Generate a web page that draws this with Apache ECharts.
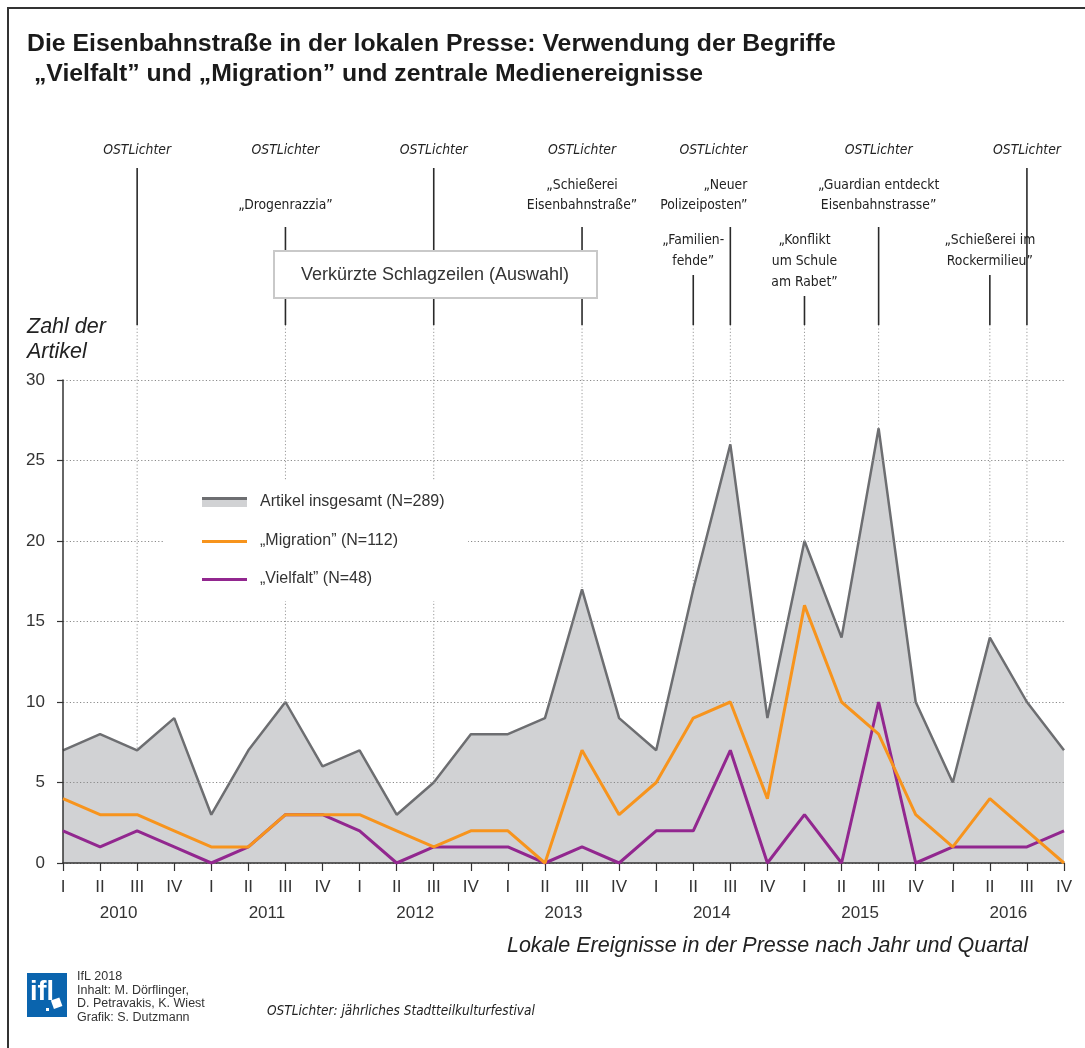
<!DOCTYPE html>
<html>
<head>
<meta charset="utf-8">
<script src="https://cdn.jsdelivr.net/npm/echarts@6/dist/echarts.min.js"></script>
<style>
html,body{margin:0;padding:0;background:#fff;}
#c{width:1085px;height:1048px;}
</style>
</head>
<body>
<div id="c"></div>
<script>
// ---- data ----
const years = ['2010', '2011', '2012', '2013', '2014', '2015', '2016'];
const quarterNames = ['I', 'II', 'III', 'IV'];
const categories = years.flatMap(y => quarterNames.map(q => y + ' ' + q));
const totalArticles = [7, 8, 7, 9, 3, 7, 10, 6, 7, 3, 5, 8, 8, 9, 17, 9, 7, 17, 26, 9, 20, 14, 27, 10, 5, 14, 10, 7];
const migration = [4, 3, 3, 2, 1, 1, 3, 3, 3, 2, 1, 2, 2, 0, 7, 3, 5, 9, 10, 4, 16, 10, 8, 3, 1, 4, 2, 0];
const vielfalt = [2, 1, 2, 1, 0, 1, 3, 3, 2, 0, 1, 1, 1, 0, 1, 0, 2, 2, 7, 0, 3, 0, 10, 0, 1, 1, 1, 2];
const seriesNames = ['Artikel insgesamt (N=289)', '„Migration” (N=112)', '„Vielfalt” (N=48)'];
const yTicks = [0, 5, 10, 15, 20, 25, 30];
const ostLichterQuarters = ['2010 III', '2011 III', '2012 III', '2013 III', '2014 III', '2015 III', '2016 III'];
const headlineQuarters = ['2011 III', '2013 III', '2014 II', '2014 III', '2015 I', '2015 III', '2016 II'];
const headlineTexts = [
  '„Drogenrazzia”',
  '„Schießerei\nEisenbahnstraße”',
  '„Familien-\nfehde”',
  '„Neuer\nPolizeiposten”',
  '„Konflikt\num Schule\nam Rabet”',
  '„Guardian entdeckt\nEisenbahnstrasse”',
  '„Schießerei im\nRockermilieu”'
];

// ---- styles ----
const SANS = '"Liberation Sans", Arial, Helvetica, sans-serif';
const NARROW = '"Liberation Sans Narrow", "DejaVu Sans Condensed", "Liberation Sans", sans-serif';
const C_TOTAL_LINE = '#6d6e71', C_TOTAL_AREA = '#d1d2d4', C_MIG = '#f7941d', C_VIEL = '#92278f';
const rightAligned = {'2014 III': true};

const chart = echarts.init(document.getElementById('c'));

chart.setOption({
  animation: false,
  backgroundColor: '#fff',
  title: {
    text: 'Die Eisenbahnstraße in der lokalen Presse: Verwendung der Begriffe\n „Vielfalt” und „Migration” und zentrale Medienereignisse',
    left: 22, top: 24,
    textStyle: {fontFamily: SANS, fontSize: 24.8, fontWeight: 'bold', color: '#1a1a1a', lineHeight: 30}
  },
  grid: {left: 63, right: 21, top: 380, bottom: 185, containLabel: false},
  xAxis: [{
    type: 'category', data: categories, boundaryGap: false, z: 3,
    axisLine: {lineStyle: {color: '#333', width: 1.5}},
    axisTick: {show: true, length: 8, interval: 0, lineStyle: {color: '#333', width: 1.2}},
    axisLabel: {interval: 0, margin: 16, fontFamily: SANS, fontSize: 17, color: '#333',
      formatter: v => v.split(' ')[1]},
    splitLine: {show: false}
  }, {
    type: 'value', min: 0, max: categories.length - 1, position: 'bottom',
    axisLine: {show: false}, axisTick: {show: false}, splitLine: {show: false},
    axisLabel: {margin: 42, fontFamily: SANS, fontSize: 17, color: '#333',
      customValues: years.map((y, i) => i * 4 + 1.5),
      formatter: v => years[Math.round((v - 1.5) / 4)]}
  }],
  yAxis: {
    type: 'value', min: 0, max: 30, interval: 5, z: 2,
    axisLine: {show: true, lineStyle: {color: '#333', width: 1.5}},
    axisTick: {show: true, length: 6, lineStyle: {color: '#333', width: 1.2}},
    axisLabel: {margin: 18, fontFamily: SANS, fontSize: 17, color: '#333',
      formatter: v => yTicks.includes(v) ? String(v) : ''},
    splitLine: {show: true, lineStyle: {color: '#8a8a8a', width: 1, type: [1.2, 2.2]}}
  },
  series: [{
    name: seriesNames[0], type: 'line', data: totalArticles, symbol: 'none', z: 1,
    lineStyle: {color: C_TOTAL_LINE, width: 2.5}, areaStyle: {color: C_TOTAL_AREA, opacity: 1}
  }, {
    name: seriesNames[2], type: 'line', data: vielfalt, symbol: 'none', z: 3,
    lineStyle: {color: C_VIEL, width: 3}
  }, {
    name: seriesNames[1], type: 'line', data: migration, symbol: 'none', z: 4,
    lineStyle: {color: C_MIG, width: 3}
  }]
});

// ---- annotations via the chart's own scales ----
const els = [];
const xOf = cat => chart.convertToPixel({xAxisIndex: 0}, categories.indexOf(cat));
const yBottom = chart.convertToPixel({yAxisIndex: 0}, 0);
const LINE_END = 325;
const eventCats = Array.from(new Set(ostLichterQuarters.concat(headlineQuarters)));
eventCats.forEach(cat => {
  const x = xOf(cat);
  const hasOst = ostLichterQuarters.includes(cat);
  const hi = headlineQuarters.indexOf(cat);
  const right = !!rightAligned[cat];
  let top = 168;
  if (hasOst) {
    els.push({type: 'text', z: 6, style: {text: 'OSTLichter', x: right ? x + 17 : x, y: 150,
      textAlign: right ? 'right' : 'center', textVerticalAlign: 'middle',
      font: 'italic 13.8px ' + NARROW, fill: '#222'}});
  }
  if (hi >= 0) {
    const txt = headlineTexts[hi];
    const n = txt.split('\n').length;
    if (hasOst) {
      els.push({type: 'text', z: 6, style: {text: txt, x: right ? x + 17 : x, y: 215,
        textAlign: right ? 'right' : 'center', textVerticalAlign: 'bottom', lineHeight: 20,
        font: '13.8px ' + NARROW, fill: '#222'}});
      top = 227;
    } else {
      els.push({type: 'text', z: 6, style: {text: txt, x: x, y: 230,
        textAlign: 'center', textVerticalAlign: 'top', lineHeight: 21,
        font: '13.8px ' + NARROW, fill: '#222'}});
      top = 230 + n * 21 + 3;
    }
  }
  els.push({type: 'line', z: 5, shape: {x1: x, y1: top, x2: x, y2: LINE_END},
    style: {stroke: '#2a2a2a', lineWidth: 1.6}});
  els.push({type: 'line', z: 0, shape: {x1: x, y1: LINE_END, x2: x, y2: yBottom},
    style: {stroke: '#9a9a9a', lineWidth: 1, lineDash: [1.2, 2.2]}});
});

// headline box
els.push({type: 'rect', z: 10, shape: {x: 274, y: 251, width: 323, height: 47},
  style: {fill: '#fff', stroke: '#c9c9c9', lineWidth: 2}});
els.push({type: 'text', z: 11, style: {text: 'Verkürzte Schlagzeilen (Auswahl)', x: 435, y: 275,
  textAlign: 'center', textVerticalAlign: 'middle', font: '18px ' + SANS, fill: '#333'}});

// legend
els.push({type: 'rect', z: 10, shape: {x: 165, y: 481, width: 303, height: 120}, style: {fill: '#fff'}});
els.push({type: 'rect', z: 11, shape: {x: 202, y: 497, width: 45, height: 3}, style: {fill: C_TOTAL_LINE}});
els.push({type: 'rect', z: 11, shape: {x: 202, y: 500, width: 45, height: 7}, style: {fill: C_TOTAL_AREA}});
els.push({type: 'rect', z: 11, shape: {x: 202, y: 540, width: 45, height: 3}, style: {fill: C_MIG}});
els.push({type: 'rect', z: 11, shape: {x: 202, y: 578, width: 45, height: 3}, style: {fill: C_VIEL}});
[502, 541, 579].forEach((y, i) => {
  els.push({type: 'text', z: 11, style: {text: seriesNames[i], x: 260, y: y,
    textAlign: 'left', textVerticalAlign: 'middle', font: '16px ' + SANS, fill: '#333'}});
});

// axis names
els.push({type: 'text', z: 6, style: {text: 'Zahl der\nArtikel', x: 27, y: 315, lineHeight: 25,
  textAlign: 'left', textVerticalAlign: 'top', font: 'italic 21.5px ' + SANS, fill: '#222'}});
els.push({type: 'text', z: 6, style: {text: 'Lokale Ereignisse in der Presse nach Jahr und Quartal', x: 1028, y: 946,
  textAlign: 'right', textVerticalAlign: 'middle', font: 'italic 21.5px ' + SANS, fill: '#222'}});

// frame
els.push({type: 'line', z: 6, shape: {x1: 7, y1: 8, x2: 1085, y2: 8}, style: {stroke: '#333', lineWidth: 2}});
els.push({type: 'line', z: 6, shape: {x1: 8, y1: 7, x2: 8, y2: 1048}, style: {stroke: '#333', lineWidth: 2}});

// footer: logo + credits
els.push({type: 'rect', z: 6, shape: {x: 27, y: 973, width: 40, height: 44}, style: {fill: '#0a64ae'}});
els.push({type: 'text', z: 7, style: {text: 'ifl', x: 30, y: 993, textAlign: 'left', textVerticalAlign: 'middle',
  font: 'bold 27px ' + SANS, fill: '#fff'}});
els.push({type: 'rect', z: 7, shape: {x: 52, y: 999, width: 9, height: 9}, rotation: 0.35, originX: 56, originY: 1003,
  style: {fill: '#fff'}});
els.push({type: 'rect', z: 7, shape: {x: 46, y: 1008, width: 3, height: 3}, style: {fill: '#fff'}});
els.push({type: 'text', z: 6, style: {text: 'IfL 2018\nInhalt: M. Dörflinger,\nD. Petravakis, K. Wiest\nGrafik: S. Dutzmann',
  x: 77, y: 970, lineHeight: 13.5, textAlign: 'left', textVerticalAlign: 'top', font: '12.5px ' + SANS, fill: '#333'}});
els.push({type: 'text', z: 6, style: {text: 'OSTLichter: jährliches Stadtteilkulturfestival', x: 267, y: 1011,
  textAlign: 'left', textVerticalAlign: 'middle', font: 'italic 13.5px ' + NARROW, fill: '#222'}});

chart.setOption({graphic: {elements: els}});
</script>
</body>
</html>
